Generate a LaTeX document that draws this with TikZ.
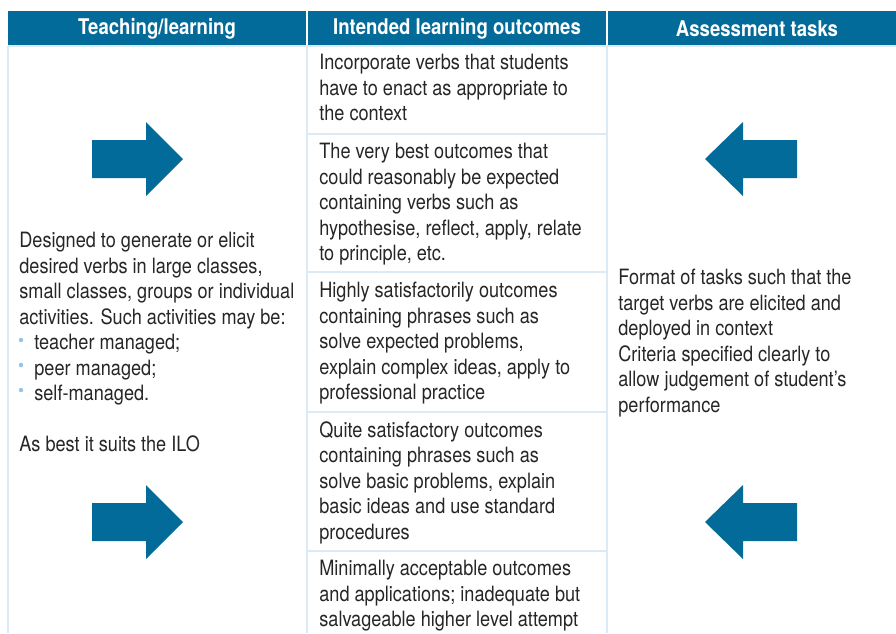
\documentclass[tikz,border=0pt]{standalone}
\usepackage{fontspec}
\setmainfont{TeX Gyre Heros}[FakeStretch=0.86]
\definecolor{hdrblue}{RGB}{3,107,154}
\definecolor{ruleblue}{RGB}{218,234,246}
\definecolor{dotblue}{RGB}{150,196,228}
\tikzset{
  celltext/.style={anchor=north west, inner sep=0pt, align=left, text=black!85,
    font=\fontsize{12}{14.5}\selectfont},
  headtext/.style={inner sep=0pt, text=white, font=\bfseries\fontsize{12.3}{14}\selectfont},
}
\begin{document}
\begin{tikzpicture}[x=0.02cm, y=-0.02cm]
  \useasboundingbox (0,0) rectangle (896,633);
  % header band
  \fill[hdrblue] (8,11) rectangle (896,46);
  \draw[white, thick] (307,11) -- (307,46) (607,11) -- (607,46);
  \node[headtext] (headTL) at (157,29) {Teaching/learning};
  \node[headtext] (headILO) at (457,29) {Intended learning outcomes};
  \node[headtext] (headAT) at (757,29) {Assessment tasks};
  % body rules
  \draw[ruleblue, thick] (8,46) -- (896,46) (8,46) -- (8,633)
    (307,46) -- (307,633) (607,46) -- (607,633);
  \foreach \y in {134,272,412,551}
    \draw[ruleblue, thick] (307,\y) -- (607,\y);
  % arrows
  \foreach \y in {159,522} {
      \fill[hdrblue] (92,\y-19) -- (146,\y-19) -- (146,\y-37) -- (183,\y)
        -- (146,\y+37) -- (146,\y+19) -- (92,\y+19) -- cycle;
      \fill[hdrblue] (797,\y-19) -- (743,\y-19) -- (743,\y-37) -- (705,\y)
        -- (743,\y+37) -- (743,\y+19) -- (797,\y+19) -- cycle;
    }
  % teaching/learning column
  \node[celltext] (tlText) at (19,232) {Designed to generate or elicit\\
    desired verbs in large classes,\\ small classes, groups or individual\\
    activities. Such activities may be:};
  \node[celltext] (tlList) at (34,334) {teacher managed;\\ peer managed;\\ self-managed.};
  \foreach \y in {340,365,390}
    \fill[dotblue] (21,\y) circle (2.2);
  \node[celltext] (tlILO) at (19,435) {As best it suits the ILO};
  % outcomes column
  \node[celltext] (iloA) at (319,54) {Incorporate verbs that students\\
    have to enact as appropriate to\\ the context};
  \node[celltext] (iloB) at (319,143) {The very best outcomes that\\
    could reasonably be expected\\ containing verbs such as\\
    hypothesise, reflect, apply, relate\\ to principle, etc.};
  \node[celltext] (iloC) at (319,282) {Highly satisfactorily outcomes\\
    containing phrases such as\\ solve expected problems,\\
    explain complex ideas, apply to\\ professional practice};
  \node[celltext] (iloD) at (319,421) {Quite satisfactory outcomes\\
    containing phrases such as\\ solve basic problems, explain\\
    basic ideas and use standard\\ procedures};
  \node[celltext] (iloE) at (319,560) {Minimally acceptable outcomes\\
    and applications; inadequate but\\ salvageable higher level attempt};
  % assessment column
  \node[celltext] (atText) at (618,269) {Format of tasks such that the\\
    target verbs are elicited and\\ deployed in context\\
    Criteria specified clearly to\\ allow judgement of student's\\ performance};
\end{tikzpicture}
\end{document}
